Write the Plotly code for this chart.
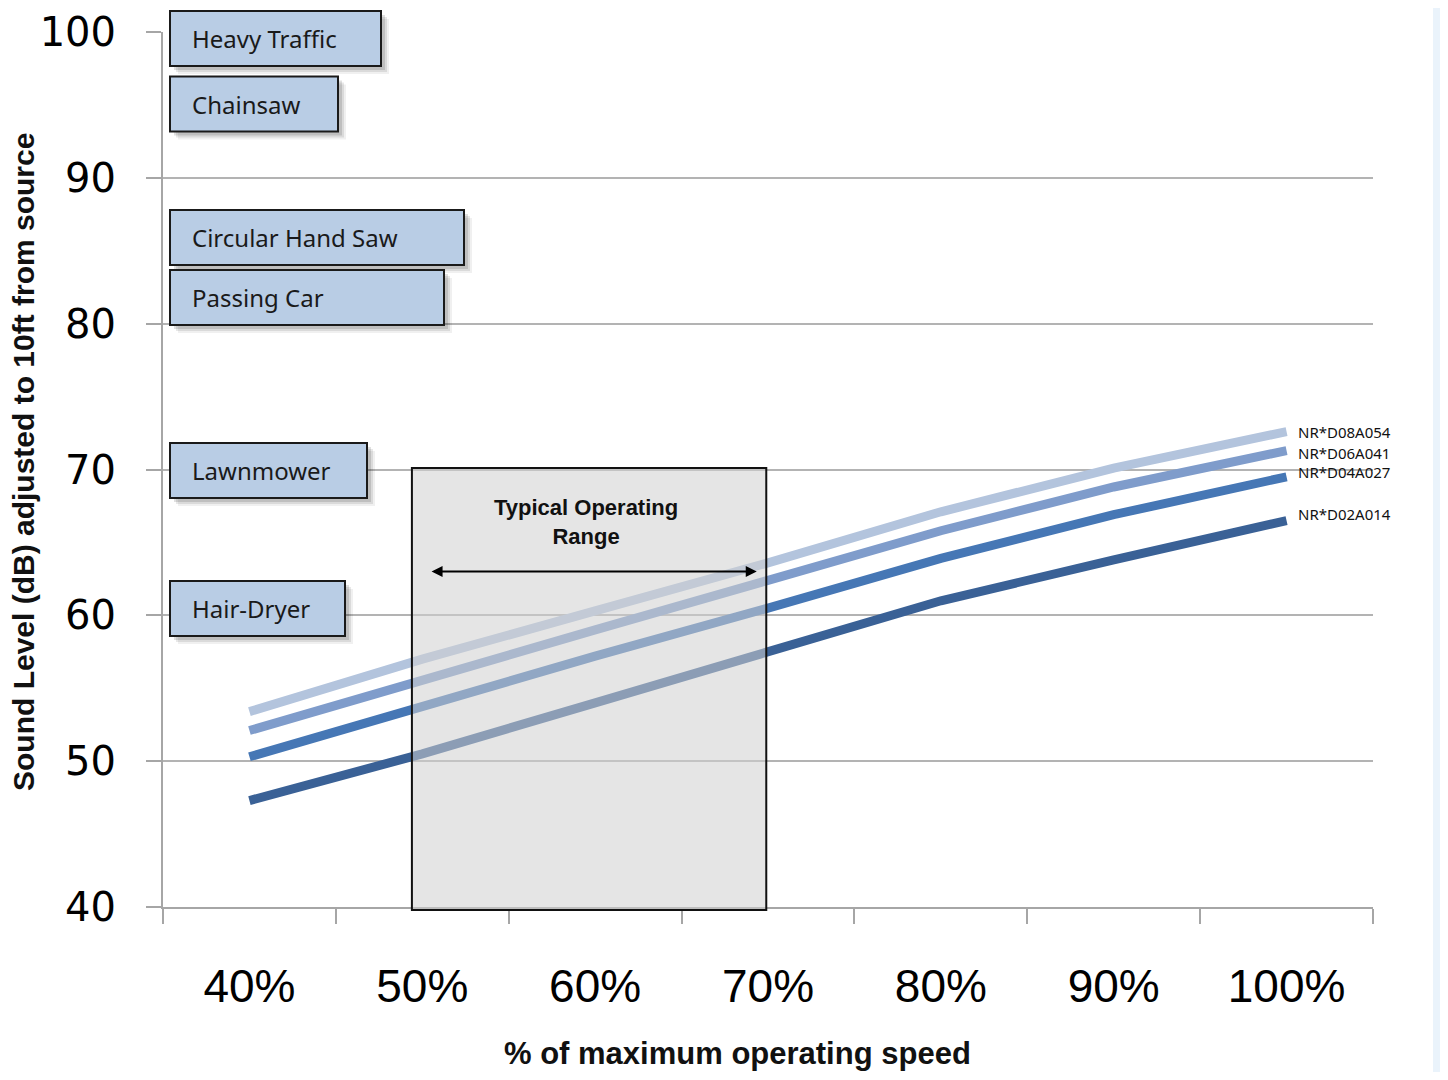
import plotly.graph_objects as go

# ---------------- data ----------------
speed_pct = [40, 50, 60, 70, 80, 90, 100]
tick_labels = ["40%", "50%", "60%", "70%", "80%", "90%", "100%"]

series_names = ["NR*D08A054", "NR*D06A041", "NR*D04A027", "NR*D02A014"]
d08a054 = [53.4, 57.0, 60.3, 63.6, 67.1, 70.1, 72.6]
d06a041 = [52.1, 55.6, 59.0, 62.4, 65.8, 68.8, 71.3]
d04a027 = [50.3, 53.8, 57.2, 60.5, 63.9, 66.9, 69.5]
d02a014 = [47.3, 50.5, 54.0, 57.5, 61.0, 63.8, 66.5]
series_values = [d08a054, d06a041, d04a027, d02a014]

ref_labels = ["Heavy Traffic", "Chainsaw", "Circular Hand Saw", "Passing Car", "Lawnmower", "Hair-Dryer"]
ref_levels = [99.55, 95.06, 85.91, 81.79, 69.93, 60.47]

range_start, range_end = 49.4, 69.9      # typical operating range (% speed)
y_ticks = [40, 50, 60, 70, 80, 90, 100]

# ---------------- styles / layout ----------------
OFF = 8                      # page body margin
W, H = 1432, 1064
L, T = 163 - OFF, 32 - OFF
PW, PH = 1210, 875
R = W - L - PW
B = H - T - PH
YMIN, YMAX = 40, 100
XMIN, XMAX = 35, 105

def px_x(px):
    return (px - OFF - L) / PW

def px_y(py):
    return (T + PH - (py - OFF)) / PH

def db_to_paper(v):
    return (v - YMIN) / (YMAX - YMIN)

colors = ["#b3c4dd", "#7f9ccb", "#4677b5", "#3a6196"]
label_shift = [0, -2, 5, 7]
box_widths_px = [211, 168, 294, 274, 197, 175]
box_h_db = 3.77

fig = go.Figure()

for name, vals, c in zip(series_names, series_values, colors):
    fig.add_trace(go.Scatter(
        x=speed_pct, y=vals, mode="lines", name=name,
        line=dict(color=c, width=9), showlegend=False,
    ))

shapes = []
annotations = []

# reference boxes
for lab, lvl, wpx in zip(ref_labels, ref_levels, box_widths_px):
    x0 = px_x(170)
    x1 = px_x(170 + wpx)
    y0 = db_to_paper(lvl - box_h_db / 2)
    y1 = db_to_paper(lvl + box_h_db / 2)
    for off, a in [(8, 0.06), (6, 0.09), (4, 0.12)]:
        dx = off / PW
        dy = off / PH
        shapes.append(dict(type="rect", xref="paper", yref="paper",
                           x0=x0 + dx, x1=x1 + dx, y0=y0 - dy, y1=y1 - dy,
                           fillcolor=f"rgba(0,0,0,{a})", line=dict(width=0), layer="above"))
    shapes.append(dict(type="rect", xref="paper", yref="paper",
                       x0=x0, x1=x1, y0=y0, y1=y1,
                       fillcolor="#b9cde5", line=dict(color="#1a1a1a", width=2), layer="above"))
    annotations.append(dict(xref="paper", yref="paper", x=px_x(190), y=db_to_paper(lvl),
                            xanchor="left", yanchor="middle", text=lab, showarrow=False,
                            font=dict(family="Noto Sans, Open Sans, sans-serif", size=24, color="#1a1a1a")))

# typical operating range box (semi-transparent over lines)
shapes.append(dict(type="rect", xref="x", yref="paper",
                   x0=range_start, x1=range_end, y0=px_y(910), y1=db_to_paper(70.1),
                   fillcolor="rgba(208,208,208,0.55)", line=dict(color="#111111", width=2),
                   layer="above"))

annotations.append(dict(xref="x", yref="y", x=59.45, y=66.4,
                        text="<b>Typical Operating<br>Range</b>", showarrow=False,
                        font=dict(family="Liberation Sans, Arial, sans-serif", size=22, color="#111111"),
                        xanchor="center", yanchor="middle"))
annotations.append(dict(xref="x", yref="y", x=69.35, y=63.0, ax=50.45, ay=63.0,
                        axref="x", ayref="y", text="", showarrow=True,
                        arrowhead=2, startarrowhead=2, arrowside="end+start",
                        arrowsize=1.1, startarrowsize=1.1, arrowwidth=2, arrowcolor="#000000"))

# series labels at line ends
for name, vals, s in zip(series_names, series_values, label_shift):
    annotations.append(dict(xref="x", yref="y", x=speed_pct[-1], y=vals[-1], xshift=9, yshift=s,
                            text=name, showarrow=False, xanchor="left", yanchor="middle",
                            font=dict(family="Noto Sans, Open Sans, sans-serif", size=15, color="#111111")))

# axis titles
annotations.append(dict(xref="paper", yref="paper", x=px_x(23), y=px_y(462),
                        text="<b>Sound Level (dB) adjusted to 10ft from source</b>", textangle=-90,
                        showarrow=False, xanchor="center", yanchor="middle",
                        font=dict(family="Liberation Sans, Arial, sans-serif", size=30, color="#111111")))
annotations.append(dict(xref="paper", yref="paper", x=px_x(737), y=px_y(1053),
                        text="<b>% of maximum operating speed</b>",
                        showarrow=False, xanchor="center", yanchor="middle",
                        font=dict(family="Liberation Sans, Arial, sans-serif", size=31, color="#111111")))

# faint photo edge strip on the right
shapes.append(dict(type="rect", xref="paper", yref="paper", x0=px_x(1433), x1=px_x(1440),
                   y0=px_y(1072), y1=px_y(8), fillcolor="#eaf3fb", line=dict(width=0), layer="below"))

fig.update_layout(
    width=W, height=H,
    margin=dict(l=L, r=R, t=T, b=B, pad=0, autoexpand=False),
    paper_bgcolor="white", plot_bgcolor="white",
    shapes=shapes, annotations=annotations,
    xaxis=dict(
        range=[XMIN, XMAX], tickmode="array", tickvals=speed_pct, ticktext=tick_labels,
        ticks="", showgrid=False, zeroline=False, automargin=False,
        showline=True, linecolor="#a6a6a6", linewidth=2,
        tickfont=dict(family="Liberation Sans Narrow, Liberation Sans, Arial", size=46, color="#000000"),
        ticklabelstandoff=38,
        minor=dict(tickmode="array", tickvals=[35, 45, 55, 65, 75, 85, 95, 105],
                   ticks="outside", ticklen=15, tickwidth=2, tickcolor="#a6a6a6", showgrid=False),
    ),
    yaxis=dict(
        range=[YMIN, YMAX], tickmode="array", tickvals=y_ticks,
        ticks="outside", ticklen=15, tickwidth=2, tickcolor="#a6a6a6",
        showgrid=True, gridcolor="#b3b3b3", gridwidth=2, zeroline=False, automargin=False,
        showline=True, linecolor="#a6a6a6", linewidth=2,
        tickfont=dict(family="DejaVu Sans, sans-serif", size=40, color="#000000"),
        ticklabelstandoff=22,
    ),
)

fig.write_html("out.html")
